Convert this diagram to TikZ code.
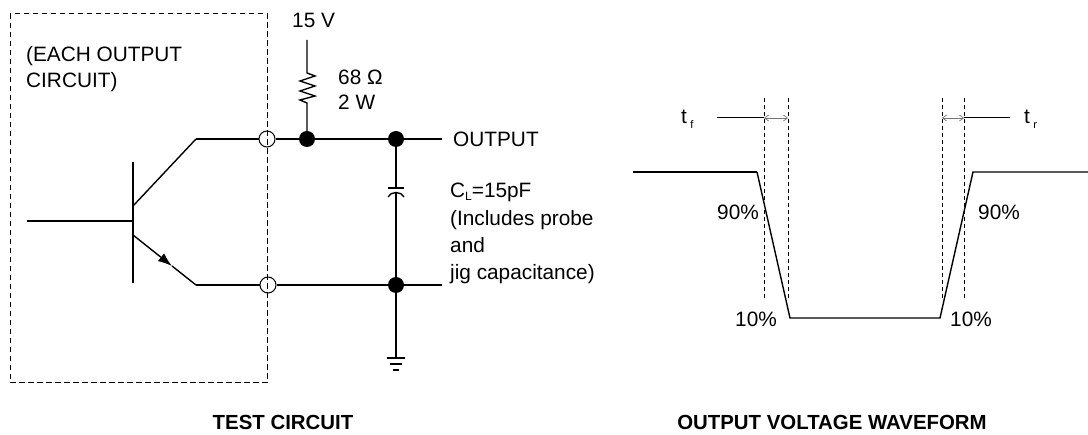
\documentclass[tikz,border=0pt]{standalone}
\usepackage{fontspec}
\setmainfont{Liberation Sans}
\usetikzlibrary{arrows.meta}
\begin{document}
\begin{tikzpicture}[x=1pt,y=-1pt,
  wire/.style={line width=1.4pt},
  dsh/.style={line width=1pt,dash pattern=on 5.5pt off 3.5pt},
  dot/.style={circle,fill=black,inner sep=0pt,minimum size=16pt},
  odot/.style={circle,draw=black,line width=1pt,inner sep=0pt,minimum size=16pt},
  lbl/.style={inner sep=0pt,anchor=base west,font=\fontsize{20.8}{24}\selectfont},
  ttl/.style={inner sep=0pt,font=\fontsize{20.4}{24}\selectfont\bfseries},
  gar/.style={line width=0.7pt,draw=black!55,{Straight Barb[length=4pt,width=6pt]}-{Straight Barb[length=4pt,width=6pt]}}
]
\useasboundingbox (0,0) rectangle (1088,435);
% ---------------- test circuit ----------------
\draw[dsh] (10,14) rectangle (267,383);
\node[lbl] (each1) at (26,62) {(EACH OUTPUT};
\node[lbl] (each2) at (26,88) {CIRCUIT)};
% transistor
\coordinate (bt) at (133,162);
\coordinate (bb) at (133,283);
\draw[wire] (bt) -- (bb);
\coordinate (bin) at (27,221);
\coordinate (bpin) at (133,221);
\draw[wire] (bin) -- (bpin);
\coordinate (cst) at (133,206);
\coordinate (ccor) at (196,139);
\draw[wire] (cst) -- (ccor);
\coordinate (est) at (133,235);
\coordinate (earr) at (172,266);
\coordinate (ecor) at (196,285);
\draw[wire,-{Latex[length=14pt,width=10pt]}] (est) -- (earr);
\draw[wire] (earr) -- (ecor);
% terminals
\node[odot] (t1) at (267,139) {};
\node[odot] (t2) at (268,285) {};
\node[dot] (n1) at (307,139) {};
\node[dot] (n2) at (396,139) {};
\node[dot] (n3) at (396,285) {};
\coordinate (out) at (442,139);
\coordinate (out2) at (442,285);
\draw[wire] (ccor) -- (t1) -- (n1) -- (n2) -- (out);
\draw[wire] (ecor) -- (t2) -- (n3) -- (out2);
% resistor
\coordinate (vtop) at (307,40);
\coordinate (rtop) at (307,73);
\coordinate (rbot) at (307,103);
\draw[wire] (vtop) -- (rtop) -- (315,76) -- (300,81) -- (315,86) -- (300,91) -- (315,96) -- (300,100) -- (rbot) -- (n1);
\node[lbl] (v15) at (292,28) {15 V};
\node[lbl] (r1) at (338,85) {68 Ω};
\node[lbl] (r2) at (338,110) {2 W};
% capacitor
\coordinate (ctop) at (396,188);
\coordinate (cbot) at (396,192);
\draw[wire] (n2) -- (ctop);
\draw[wire] (388,188) -- (404,188);
\draw[wire] (388,197) .. controls (391,191) and (401,191) .. (404,197);
\draw[wire] (cbot) -- (n3);
% ground
\coordinate (gnd) at (396,358);
\draw[wire] (n3) -- (gnd);
\draw[wire] (387,358) -- (405,358);
\draw[wire] (390,364) -- (402,364);
\draw[wire] (393,370) -- (399,370);
% labels
\node[lbl] (outl) at (453,147) {OUTPUT};
\node[lbl] (cl1) at (450,198) {C\raisebox{-3pt}{\fontsize{12}{12}\selectfont L}=15pF};
\node[lbl] (cl2) at (450,226) {(Includes probe};
\node[lbl] (cl3) at (450,253) {and};
\node[lbl] (cl4) at (450,280) {jig capacitance)};
\node[ttl] (tc) at (283,422) {TEST CIRCUIT};
% ---------------- waveform ----------------
\coordinate (w0) at (633,172);
\coordinate (w1) at (757,172);
\coordinate (w2) at (790,318);
\coordinate (w3) at (940,318);
\coordinate (w4) at (973,172);
\coordinate (w5) at (1088,172);
\draw[line width=1.9pt] (w0) -- (w1);
\draw[wire,line join=miter] (w1) -- (w2) -- (w3) -- (w4) -- (w5);
\foreach \xx/\nm in {764/da,788/db,942/dc,964/dd}{
  \coordinate (\nm t) at (\xx,98);
  \coordinate (\nm b) at (\xx,300);
  \draw[line width=1pt,dash pattern=on 4pt off 3pt] (\nm t) -- (\nm b);
}
\coordinate (aa) at (764,118);
\coordinate (ab) at (788,118);
\coordinate (ac) at (942,118);
\coordinate (ad) at (964,118);
\draw[gar] (aa) -- (ab);
\draw[gar] (ac) -- (ad);
\coordinate (tfl) at (717,118);
\coordinate (trl) at (1010,118);
\draw[line width=1pt] (tfl) -- (aa);
\draw[line width=1pt] (ad) -- (trl);
\node[lbl] (tf) at (681,124) {t\,\raisebox{-5pt}{\fontsize{11}{11}\selectfont f}};
\node[lbl] (tr) at (1024,124) {t\,\raisebox{-5pt}{\fontsize{11}{11}\selectfont r}};
\node[lbl] (p90a) at (717,220) {90\%};
\node[lbl] (p90b) at (978,220) {90\%};
\node[lbl] (p10a) at (735,327) {10\%};
\node[lbl] (p10b) at (950,327) {10\%};
\node[ttl] (wt) at (832,422) {OUTPUT VOLTAGE WAVEFORM};
\end{tikzpicture}
\end{document}
